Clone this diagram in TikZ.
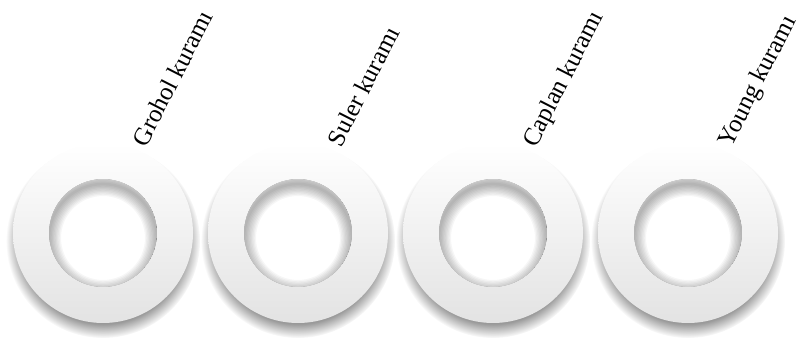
\documentclass[tikz,border=0pt]{standalone}
\usepackage{fontspec}
\setmainfont{Liberation Serif}
\usetikzlibrary{positioning}
\usetikzlibrary{calc}
\usetikzlibrary{fadings}

\begin{document}
\begin{tikzpicture}[x=0.75pt, y=0.75pt, every node/.style={font=\fontsize{18.8}{22}\selectfont}]
    \useasboundingbox (0,0) rectangle (799,338);
    \foreach \i/\w in {0/Grohol kuramı, 1/Suler kuramı, 2/Caplan kuramı, 3/Young kuramı} {
        \coordinate (ring\i) at (103+195*\i, 105);
        % drop shadow
        \fill[black, opacity=0.4, path fading=circle with fuzzy edge 15 percent]
            ($(ring\i)+(0,-8)$) circle (97);
        % ring body
        \shade[even odd rule, top color=white, middle color=white, bottom color=black!11]
            (ring\i) circle (90) (ring\i) circle (54);
        % inner shadow of the hole
        \begin{scope}
            \clip (ring\i) circle (54);
            \fill[white] (ring\i) circle (54);
            \foreach \lw in {2,4,...,18}
                \draw[black, opacity=0.035, line width=\lw] ($(ring\i)+(0,-5)$) circle (54);
        \end{scope}
        \node[rotate=63, anchor=base west, inner sep=0] (lab\i) at ($(ring\i)+(63:95)$) {\w};
    }
\end{tikzpicture}
\end{document}
